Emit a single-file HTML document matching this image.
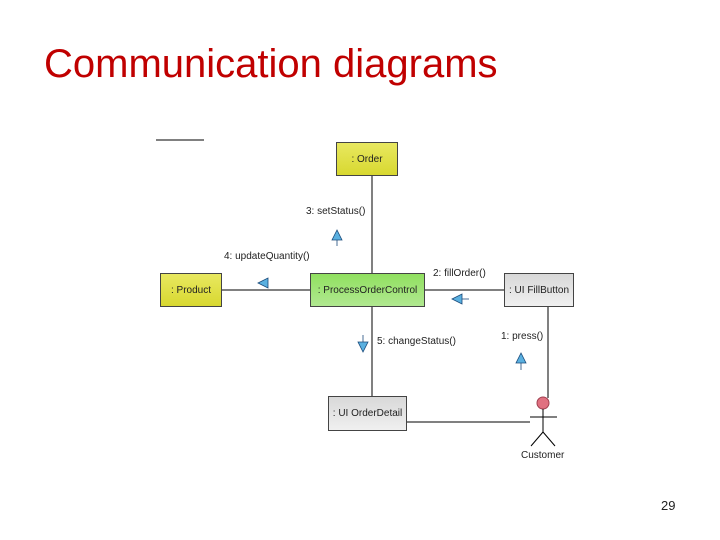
<!DOCTYPE html>
<html><head><style>
body{margin:0;width:720px;height:540px;background:#fff;position:relative;overflow:hidden;font-family:"Liberation Sans",sans-serif}
.t{position:absolute;left:44px;top:42px;font-size:40px;color:#c00000;font-family:"Liberation Sans",sans-serif}
.b{position:absolute;border:1px solid #444;font-size:10px;display:flex;align-items:center;justify-content:center;box-sizing:border-box;color:#222}
.l{position:absolute;font-size:10px;color:#222;white-space:nowrap}
</style></head><body>
<div class="t">Communication diagrams</div>
<svg width="720" height="540" style="position:absolute;left:0;top:0">
<line x1="156" y1="140" x2="204" y2="140" stroke="#000"/>
<line x1="372" y1="175" x2="372" y2="396" stroke="#000"/>
<line x1="222" y1="290" x2="504" y2="290" stroke="#000"/>
<line x1="548" y1="307" x2="548" y2="398" stroke="#000"/>
<line x1="406" y1="422" x2="530" y2="422" stroke="#000"/>
<circle cx="543" cy="403" r="6" fill="#e07080" stroke="#a04050"/>
<g stroke="#000" fill="none">
<line x1="543" y1="409" x2="543" y2="432"/><line x1="530" y1="417" x2="557" y2="417"/>
<line x1="543" y1="432" x2="531" y2="446"/><line x1="543" y1="432" x2="555" y2="446"/>
</g>
<g fill="#5ab0e0" stroke="#1a4a7a" stroke-width="0.8">
<polygon points="337,230 332,240 342,240"/><line x1="337" y1="240" x2="337" y2="246"/>
<polygon points="258,283 268,278 268,288"/>
<polygon points="452,299 462,294 462,304"/><line x1="462" y1="299" x2="469" y2="299"/>
<polygon points="363,352 358,342 368,342"/><line x1="363" y1="342" x2="363" y2="335"/>
<polygon points="521,353 516,363 526,363"/><line x1="521" y1="363" x2="521" y2="370"/>
</g>
</svg>
<div class="b" style="left:336px;top:142px;width:62px;height:34px;background:linear-gradient(#e8e860,#d8d830)">: Order</div>
<div class="b" style="left:160px;top:273px;width:62px;height:34px;background:linear-gradient(#e8e860,#d8d830)">: Product</div>
<div class="b" style="left:310px;top:273px;width:115px;height:34px;background:linear-gradient(#90e060,#b0e890)">: ProcessOrderControl</div>
<div class="b" style="left:504px;top:273px;width:70px;height:34px;background:linear-gradient(#d8d8d8,#f0f0f0)">: UI FillButton</div>
<div class="b" style="left:328px;top:396px;width:79px;height:35px;background:linear-gradient(#d8d8d8,#f0f0f0)">: UI OrderDetail</div>
<div class="l" style="left:306px;top:206px">3: setStatus()</div>
<div class="l" style="left:224px;top:251px">4: updateQuantity()</div>
<div class="l" style="left:433px;top:268px">2: fillOrder()</div>
<div class="l" style="left:377px;top:336px">5: changeStatus()</div>
<div class="l" style="left:501px;top:331px">1: press()</div>
<div class="l" style="left:521px;top:450px">Customer</div>
<div class="l" style="left:661px;top:498px;font-size:13px">29</div>
</body></html>
